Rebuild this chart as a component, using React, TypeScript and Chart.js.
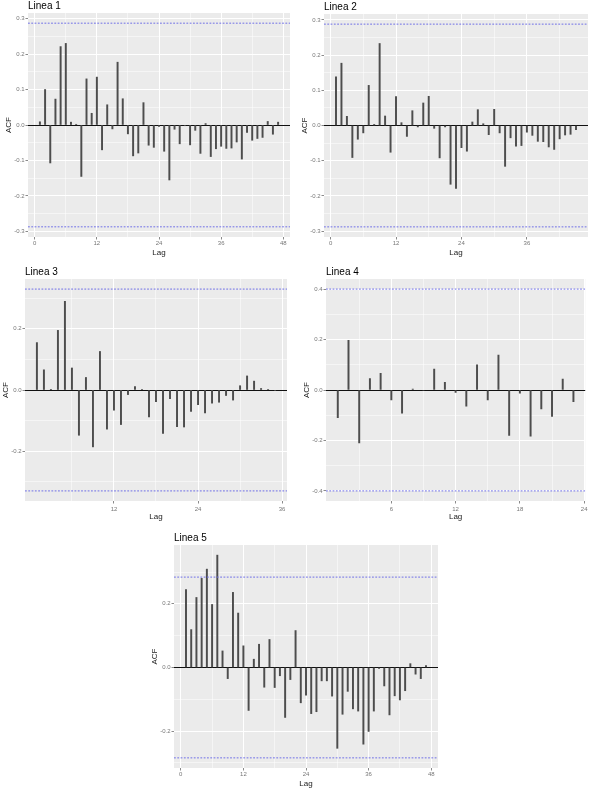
import React, { useEffect, useRef } from "react";
import { Chart, registerables } from "chart.js";

Chart.register(...registerables);

const FONT = '"Liberation Sans", Arial, Helvetica, sans-serif';

// ACF values per lag (lag 1 .. n)
const LINEA1_ACF = [
  0.009, 0.1, -0.107, 0.073, 0.221, 0.23, 0.008, 0.002, -0.145, 0.13,
  0.033, 0.135, -0.07, 0.057, -0.011, 0.177, 0.074, -0.025, -0.087, -0.079,
  0.063, -0.057, -0.063, -0.004, -0.074, -0.155, -0.012, -0.053, -0.002, -0.056,
  -0.015, -0.08, 0.004, -0.089, -0.067, -0.06, -0.066, -0.065, -0.048, -0.096,
  -0.021, -0.043, -0.038, -0.035, 0.01, -0.026, 0.008,
];
const LINEA2_ACF = [
  0.138, 0.177, 0.026, -0.091, -0.039, -0.021, 0.114, 0.003, 0.233, 0.027,
  -0.076, 0.082, 0.008, -0.031, 0.042, -0.004, 0.064, 0.083, -0.008, -0.092,
  -0.004, -0.167, -0.179, -0.063, -0.073, 0.01, 0.045, 0.005, -0.026, 0.046,
  -0.021, -0.116, -0.035, -0.059, -0.057, -0.019, -0.028, -0.045, -0.046, -0.061,
  -0.068, -0.038, -0.027, -0.025, -0.012,
];
const LINEA3_ACF = [
  0.155, 0.066, 0.001, 0.195, 0.29, 0.072, -0.148, 0.041, -0.186, 0.126,
  -0.128, -0.066, -0.113, -0.015, 0.011, 0.001, -0.088, -0.038, -0.142, -0.028,
  -0.12, -0.121, -0.07, -0.048, -0.075, -0.043, -0.04, -0.018, -0.033, 0.014,
  0.046, 0.029, 0.005, 0.002, -0.002,
];
const LINEA4_ACF = [
  -0.11, 0.197, -0.21, 0.045, 0.066, -0.039, -0.092, 0.004, -0.002, 0.083,
  0.03, -0.01, -0.064, 0.1, -0.039, 0.138, -0.18, -0.013, -0.183, -0.075,
  -0.105, 0.043, -0.046,
];
const LINEA5_ACF = [
  0.245, 0.119, 0.22, 0.28, 0.309, 0.198, 0.353, 0.052, -0.035, 0.236,
  0.171, 0.068, -0.135, 0.026, 0.073, -0.062, 0.088, -0.063, -0.026, -0.157,
  -0.038, 0.116, -0.111, -0.087, -0.145, -0.139, -0.042, -0.042, -0.09, -0.254,
  -0.147, -0.075, -0.13, -0.137, -0.241, -0.201, -0.137, -0.003, -0.058, -0.149,
  -0.089, -0.102, -0.073, 0.012, -0.021, -0.035, 0.006,
];

// confidence bounds (±)
const CI_LINEA1 = 0.287;
const CI_LINEA2 = 0.288;
const CI_LINEA3 = 0.33;
const CI_LINEA4 = 0.4;
const CI_LINEA5 = 0.284;

// tick values
const X_MAJOR_48 = [0, 12, 24, 36, 48];
const X_MINOR_48 = [6, 18, 30, 42];
const X_MAJOR_36 = [12, 24, 36];
const X_MINOR_36 = [6, 18, 30];
const X_MAJOR_24 = [6, 12, 18, 24];
const X_MINOR_24 = [3, 9, 15, 21];
const Y_MAJOR_01 = [-0.3, -0.2, -0.1, 0, 0.1, 0.2, 0.3];
const Y_MINOR_01 = [-0.35, -0.25, -0.15, -0.05, 0.05, 0.15, 0.25, 0.35];
const Y_MAJOR_02 = [-0.2, 0, 0.2];
const Y_MINOR_02 = [-0.3, -0.1, 0.1, 0.3];
const Y_MAJOR_04 = [-0.4, -0.2, 0, 0.2, 0.4];
const Y_MINOR_04 = [-0.3, -0.1, 0.1, 0.3];

type Spec = {
  title: string;
  values: number[];
  ci: number;
  xMajor: number[];
  xMinor: number[];
  yMajor: number[];
  yMinor: number[];
  left: number;
  top: number;
  width: number;
  height: number;
  xAxisH: number;
  xTickPad: number;
};

const Y_AXIS_W = 28;
const TITLE_H = 14;
const RIGHT_PAD = 2;

const PANELS: Spec[] = [
  { title: "Linea 1", values: LINEA1_ACF, ci: CI_LINEA1, xMajor: X_MAJOR_48, xMinor: X_MINOR_48, yMajor: Y_MAJOR_01, yMinor: Y_MINOR_01, left: 28, top: 13, width: 262, height: 224, xAxisH: 22, xTickPad: 0.5 },
  { title: "Linea 2", values: LINEA2_ACF, ci: CI_LINEA2, xMajor: X_MAJOR_48, xMinor: X_MINOR_48, yMajor: Y_MAJOR_01, yMinor: Y_MINOR_01, left: 324, top: 14, width: 264, height: 223, xAxisH: 22, xTickPad: 0.5 },
  { title: "Linea 3", values: LINEA3_ACF, ci: CI_LINEA3, xMajor: X_MAJOR_36, xMinor: X_MINOR_36, yMajor: Y_MAJOR_02, yMinor: Y_MINOR_02, left: 25, top: 279, width: 262, height: 222, xAxisH: 24, xTickPad: 2.5 },
  { title: "Linea 4", values: LINEA4_ACF, ci: CI_LINEA4, xMajor: X_MAJOR_24, xMinor: X_MINOR_24, yMajor: Y_MAJOR_04, yMinor: Y_MINOR_04, left: 326, top: 279, width: 262, height: 222, xAxisH: 24, xTickPad: 2.5 },
  { title: "Linea 5", values: LINEA5_ACF, ci: CI_LINEA5, xMajor: X_MAJOR_48, xMinor: X_MINOR_48, yMajor: Y_MAJOR_02, yMinor: Y_MINOR_02, left: 174, top: 545, width: 264, height: 223, xAxisH: 22, xTickPad: 0.5 },
];

const has = (arr: number[], v: number) => arr.some((m) => Math.abs(m - v) < 1e-9);

const panelBg = {
  id: "panelBg",
  beforeDraw(chart: any) {
    const { ctx, chartArea } = chart;
    if (!chartArea) return;
    ctx.save();
    ctx.fillStyle = "#EBEBEB";
    ctx.fillRect(chartArea.left, chartArea.top, chartArea.right - chartArea.left, chartArea.bottom - chartArea.top);
    ctx.restore();
  },
};

function AcfPanel({ spec }: { spec: Spec }) {
  const ref = useRef<HTMLCanvasElement>(null);
  const cw = Y_AXIS_W + spec.width + RIGHT_PAD;
  const ch = TITLE_H + spec.height + spec.xAxisH;

  useEffect(() => {
    if (!ref.current) return;
    const n = spec.values.length;
    const xMin = 1 - 0.05 * (n - 1);
    const xMax = n + 0.05 * (n - 1);
    const lo = Math.min(-spec.ci, ...spec.values);
    const hi = Math.max(spec.ci, ...spec.values);
    const pad = 0.05 * (hi - lo);
    const yMin = lo - pad;
    const yMax = hi + pad;
    const bars = spec.values.map((v, i) => ({ x: i + 1, y: v }));
    const ciStyle = {
      type: "line" as const,
      borderColor: "#6f6fe6",
      borderWidth: 1,
      borderDash: [1.8, 1.5],
      pointRadius: 0,
      order: 1,
    };

    const chart = new Chart(ref.current, {
      type: "bar",
      data: {
        datasets: [
          { type: "bar", data: bars as any, backgroundColor: "#4d4d4d", borderWidth: 0, barThickness: 1.3, order: 2 } as any,
          { ...ciStyle, data: [{ x: xMin, y: spec.ci }, { x: xMax, y: spec.ci }] } as any,
          { ...ciStyle, data: [{ x: xMin, y: -spec.ci }, { x: xMax, y: -spec.ci }] } as any,
        ],
      },
      options: {
        animation: false,
        responsive: false,
        events: [],
        layout: { padding: { left: 0, right: RIGHT_PAD, top: 0, bottom: 0 } },
        plugins: {
          legend: { display: false },
          tooltip: { enabled: false },
          title: {
            display: true,
            text: spec.title,
            align: "start",
            fullSize: false,
            color: "#000",
            font: { family: FONT, size: 10, weight: "normal" },
            padding: { top: 1.5, bottom: 0.5 },
          },
        },
        scales: {
          x: {
            type: "linear",
            min: xMin,
            max: xMax,
            offset: false,
            border: { display: false },
            grid: {
              offset: false,
              color: "#ffffff",
              lineWidth: (c: any) => (c.tick && has(spec.xMajor, c.tick.value) ? 1 : 0.5),
              tickColor: (c: any) => (c.tick && has(spec.xMajor, c.tick.value) ? "#8a8a8a" : "rgba(0,0,0,0)"),
              tickLength: 2.5,
            },
            ticks: {
              autoSkip: false,
              maxRotation: 0,
              padding: spec.xTickPad,
              color: "#777",
              font: { family: FONT, size: 6 },
              callback: (v: any) => (has(spec.xMajor, Number(v)) ? String(v) : ""),
            },
            title: {
              display: true,
              text: "Lag",
              color: "#1a1a1a",
              font: { family: FONT, size: 8 },
              padding: { top: 0, bottom: spec.xAxisH - 20.2 },
            },
            afterBuildTicks: (axis: any) => {
              axis.ticks = [...spec.xMajor, ...spec.xMinor]
                .filter((v) => v >= xMin && v <= xMax)
                .sort((a, b) => a - b)
                .map((v) => ({ value: v }));
            },
            afterFit: (axis: any) => {
              axis.height = spec.xAxisH;
            },
          },
          y: {
            type: "linear",
            min: yMin,
            max: yMax,
            border: { display: false },
            grid: {
              color: (c: any) => (c.tick && Math.abs(c.tick.value) < 1e-9 ? "#111111" : "#ffffff"),
              lineWidth: (c: any) => (c.tick && has(spec.yMajor, c.tick.value) ? 1 : 0.5),
              tickColor: (c: any) => (c.tick && has(spec.yMajor, c.tick.value) ? "#8a8a8a" : "rgba(0,0,0,0)"),
              tickLength: 2.5,
            },
            ticks: {
              autoSkip: false,
              padding: 1,
              color: "#777",
              font: { family: FONT, size: 6 },
              callback: (v: any) => (has(spec.yMajor, Number(v)) ? Number(v).toFixed(1) : ""),
            },
            title: {
              display: true,
              text: "ACF",
              color: "#1a1a1a",
              font: { family: FONT, size: 8 },
              padding: { top: 3.5, bottom: 0 },
            },
            afterBuildTicks: (axis: any) => {
              axis.ticks = [...spec.yMajor, ...spec.yMinor]
                .filter((v) => v >= yMin && v <= yMax)
                .sort((a, b) => a - b)
                .map((v) => ({ value: v }));
            },
            afterFit: (axis: any) => {
              axis.width = Y_AXIS_W;
            },
          },
        },
      } as any,
      plugins: [panelBg],
    });
    return () => chart.destroy();
  }, [spec]);

  return (
    <div
      style={{
        position: "absolute",
        left: spec.left - Y_AXIS_W,
        top: spec.top - TITLE_H,
        width: cw,
        height: ch,
      }}
    >
      <canvas ref={ref} width={cw} height={ch} style={{ display: "block", width: cw, height: ch }} />
    </div>
  );
}

export default function App() {
  return (
    <div
      style={{
        position: "absolute",
        left: 0,
        top: 0,
        width: 591,
        height: 790,
        background: "#ffffff",
        overflow: "hidden",
        fontFamily: FONT,
      }}
    >
      {PANELS.map((p) => (
        <AcfPanel key={p.title} spec={p} />
      ))}
    </div>
  );
}
